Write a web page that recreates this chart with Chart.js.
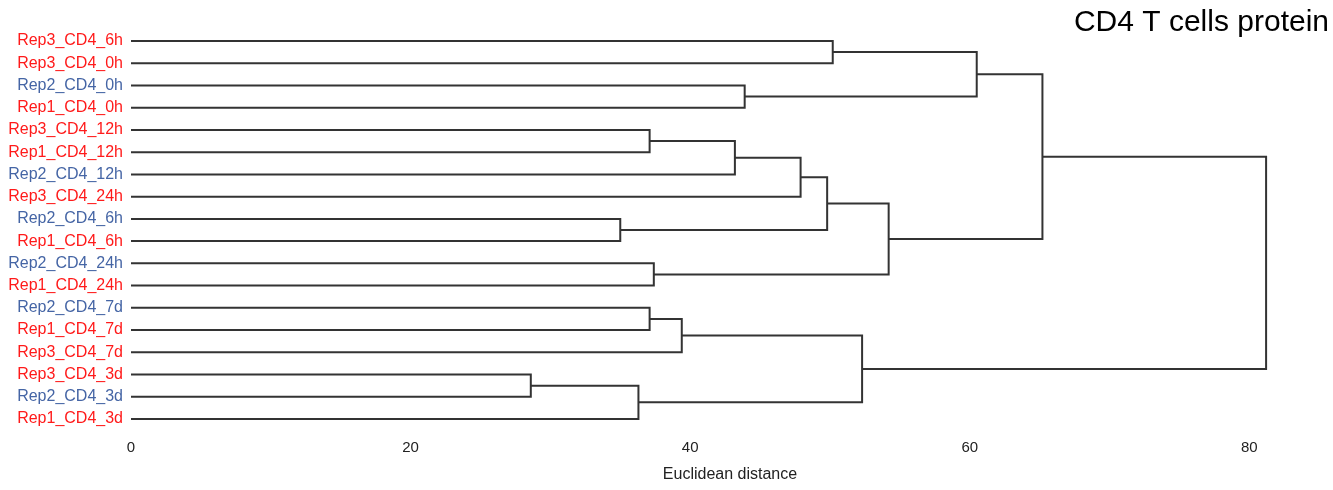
<!DOCTYPE html>
<html>
<head>
<meta charset="utf-8">
<script src="https://cdn.jsdelivr.net/npm/chart.js@4"></script>
<style>
  html, body { margin: 0; padding: 0; background: #fff; }
  #wrap { width: 1333px; height: 490px; }
</style>
</head>
<body>
<div id="wrap"><canvas id="dendro"></canvas></div>
<script>
// leaves, top to bottom
const leaves = ['Rep3_CD4_6h','Rep3_CD4_0h','Rep2_CD4_0h','Rep1_CD4_0h','Rep3_CD4_12h','Rep1_CD4_12h',
  'Rep2_CD4_12h','Rep3_CD4_24h','Rep2_CD4_6h','Rep1_CD4_6h','Rep2_CD4_24h','Rep1_CD4_24h',
  'Rep2_CD4_7d','Rep1_CD4_7d','Rep3_CD4_7d','Rep3_CD4_3d','Rep2_CD4_3d','Rep1_CD4_3d'];
const leafColors = ['#ff1a1a','#ff1a1a','#4565a5','#ff1a1a','#ff1a1a','#ff1a1a',
  '#4565a5','#ff1a1a','#4565a5','#ff1a1a','#4565a5','#ff1a1a',
  '#4565a5','#ff1a1a','#ff1a1a','#ff1a1a','#4565a5','#ff1a1a'];

// merges (ids < 18 are leaves, 18+k is merge k)
const mergeLeft   = [0, 2, 18, 4, 21, 22, 8, 23, 10, 25, 20, 12, 29, 15, 31, 30, 28];
const mergeRight  = [1, 3, 19, 5, 6, 7, 9, 24, 11, 26, 27, 13, 14, 16, 17, 32, 33];
const mergeHeight = [50.2, 43.9, 60.5, 37.1, 43.2, 47.9, 35.0, 49.8, 37.4, 54.2, 65.2, 37.1, 39.4, 28.6, 36.3, 52.3, 81.2];

const xTicks = [0, 20, 40, 60, 80];

// node position: leaves at height 0, merges at midpoint of children
const nodeX = leaves.map(() => 0);
const nodeY = leaves.map((_, i) => i);
const datasets = [];
mergeHeight.forEach((h, k) => {
  const a = mergeLeft[k], b = mergeRight[k];
  datasets.push({
    data: [
      {x: nodeX[a], y: nodeY[a]}, {x: h, y: nodeY[a]},
      {x: h, y: nodeY[b]}, {x: nodeX[b], y: nodeY[b]}
    ],
    borderColor: '#333333',
    borderWidth: 2,
    borderJoinStyle: 'miter',
    pointRadius: 0,
    tension: 0,
    clip: false
  });
  nodeX.push(h);
  nodeY.push((nodeY[a] + nodeY[b]) / 2);
});

const FONT = "'Liberation Sans', Arial, sans-serif";

new Chart(document.getElementById('dendro'), {
  type: 'line',
  data: { datasets },
  options: {
    responsive: true,
    maintainAspectRatio: false,
    animation: false,
    events: [],
    layout: { padding: { left: 0, right: 4, top: 0, bottom: 0 } },
    plugins: {
      legend: { display: false },
      tooltip: { enabled: false },
      title: {
        display: true,
        text: 'CD4 T cells protein',
        align: 'end',
        color: '#000',
        font: { family: FONT, size: 30, weight: 'normal', lineHeight: 1 },
        padding: { top: 8, bottom: 0 }
      }
    },
    scales: {
      x: {
        type: 'linear',
        min: 0,
        max: 85.7,
        grid: { display: false },
        border: { display: false },
        afterBuildTicks: s => { s.ticks = xTicks.map(v => ({ value: v })); },
        afterFit: s => { s.height = 60; },
        ticks: { color: '#222', padding: 1, font: { family: FONT, size: 15 } },
        title: {
          display: true,
          text: 'Euclidean distance',
          color: '#222',
          font: { family: FONT, size: 16 },
          padding: { top: 0, bottom: 6 }
        }
      },
      y: {
        type: 'linear',
        reverse: true,
        min: -0.135,
        max: 17.495,
        grid: { display: false },
        border: { display: false },
        afterBuildTicks: s => { s.ticks = leaves.map((_, i) => ({ value: i })); },
        afterFit: s => { s.width = 131; },
        ticks: {
          autoSkip: false,
          padding: 0,
          font: { family: FONT, size: 16 },
          color: c => leafColors[c.index],
          callback: v => leaves[v]
        }
      }
    }
  }
});
</script>
</body>
</html>
